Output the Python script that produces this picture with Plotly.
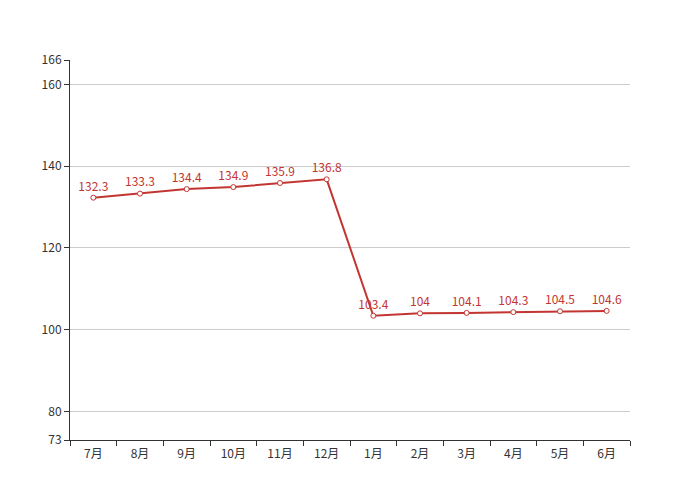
import plotly.graph_objects as go

months = ["7月", "8月", "9月", "10月", "11月", "12月", "1月", "2月", "3月", "4月", "5月", "6月"]
values = [132.3, 133.3, 134.4, 134.9, 135.9, 136.8, 103.4, 104, 104.1, 104.3, 104.5, 104.6]
y_ticks = [73, 80, 100, 120, 140, 160, 166]

color = "#c23531"
font_family = "Noto Sans CJK SC, Noto Sans, sans-serif"

fig = go.Figure()
fig.add_trace(go.Scatter(
    x=months, y=values, mode="lines+markers+text",
    line=dict(color=color, width=2),
    marker=dict(symbol="circle", size=5, color="white", line=dict(color=color, width=1)),
    text=[str(v) for v in values], textposition="top center",
    textfont=dict(color=color, size=12, family=font_family),
    cliponaxis=False,
))

fig.update_layout(
    width=700, height=500,
    margin=dict(l=62, r=78, t=52, b=68),
    plot_bgcolor="white", paper_bgcolor="white",
    showlegend=False,
    font=dict(family=font_family, size=12, color="#333"),
)
fig.update_xaxes(
    type="category", range=[-0.5, 11.5],
    showline=True, linecolor="#333", linewidth=1,
    ticks="outside", tickson="boundaries", ticklen=5, tickcolor="#333",
    ticklabelstandoff=3,
    showgrid=False, tickfont=dict(size=12, color="#333"),
)
fig.update_yaxes(
    range=[73, 166], tickmode="array", tickvals=y_ticks,
    showline=True, linecolor="#333", linewidth=1,
    ticks="outside", ticklen=5, tickcolor="#333",
    showgrid=True, gridcolor="#ccc", gridwidth=1, zeroline=False,
    tickfont=dict(size=12, color="#333"),
)

fig.write_html("out.html")
